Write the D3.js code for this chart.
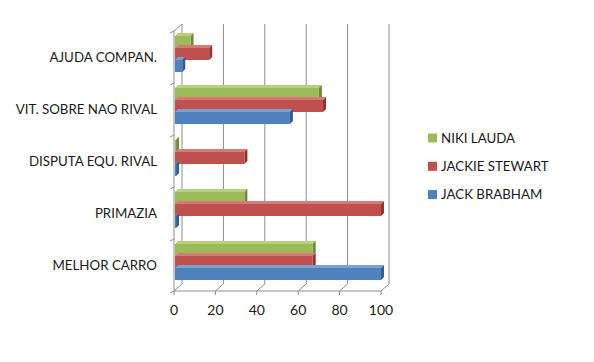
<!DOCTYPE html>
<html>
<head>
<meta charset="utf-8">
<script src="https://cdn.jsdelivr.net/npm/d3@7"></script>
<style>
  body { margin: 0; background: #fff; }
  svg { display: block; font-family: Lato, "Open Sans", sans-serif; }
</style>
</head>
<body>
<div id="chart"></div>
<script>
// categories top to bottom, as in the picture
var categories = ["AJUDA COMPAN.", "VIT. SOBRE NAO RIVAL", "DISPUTA EQU. RIVAL", "PRIMAZIA", "MELHOR CARRO"];
var seriesNames = ["NIKI LAUDA", "JACKIE STEWART", "JACK BRABHAM"];
var nikiLauda = [8, 70, 1, 34, 67];
var jackieStewart = [17, 72, 34, 100, 67];
var jackBrabham = [4, 56, 1, 1, 100];
var xTicks = [0, 20, 40, 60, 80, 100];

var seriesColors = ["#9bbb59", "#c0504d", "#4f81bd"];
var sideColors = ["#6f8a3a", "#8e3432", "#345d8e"];
var topColors = ["#b6d07c", "#d47b78", "#7aa1d2"];

var W = 594, H = 362;
var depthX = 8, depthY = -7;   // offset of the back wall
var barDX = 3, barDY = -3;     // depth of the bars

var svg = d3.select("#chart").append("svg")
    .attr("width", W)
    .attr("height", H);

var x = d3.scaleLinear().domain([0, 100]).range([174, 381]);
var y = d3.scaleBand().domain(categories).range([31, 291]).paddingInner(0).paddingOuter(0);
// bars sit a bit above the middle of each band (3D depth)
var yInner = d3.scaleBand().domain(seriesNames).range([5, 41]).padding(0);

var yTop = y.range()[0], yBottom = y.range()[1];
var gridColor = "#8c8c8c";

// back wall gridlines
svg.append("g").selectAll("line")
    .data(xTicks)
    .join("line")
    .attr("x1", function (d) { return x(d) + depthX; })
    .attr("x2", function (d) { return x(d) + depthX; })
    .attr("y1", yBottom + depthY)
    .attr("y2", yTop + depthY)
    .attr("stroke", gridColor)
    .attr("stroke-width", 1);

// floor: diagonal lines from front ticks to back
svg.append("g").selectAll("line")
    .data(xTicks)
    .join("line")
    .attr("x1", function (d) { return x(d); })
    .attr("x2", function (d) { return x(d) + depthX; })
    .attr("y1", yBottom)
    .attr("y2", yBottom + depthY)
    .attr("stroke", gridColor);
svg.append("line")
    .attr("x1", x(0)).attr("x2", x(100))
    .attr("y1", yBottom).attr("y2", yBottom)
    .attr("stroke", gridColor);

// left wall
svg.append("line")
    .attr("x1", x(0)).attr("x2", x(0))
    .attr("y1", yBottom).attr("y2", yTop)
    .attr("stroke", gridColor);
svg.append("line")
    .attr("x1", x(0)).attr("x2", x(0) + depthX)
    .attr("y1", yTop).attr("y2", yTop + depthY)
    .attr("stroke", gridColor);
svg.append("g").selectAll("line")
    .data(d3.range(categories.length + 1))
    .join("line")
    .attr("x1", x(0) - 4).attr("x2", x(0))
    .attr("y1", function (i) { return yTop + i * y.step() + 2; })
    .attr("y2", function (i) { return yTop + i * y.step(); })
    .attr("stroke", gridColor);

// x tick marks below floor
svg.append("g").selectAll("line")
    .data(xTicks)
    .join("line")
    .attr("x1", function (d) { return x(d); })
    .attr("x2", function (d) { return x(d); })
    .attr("y1", yBottom).attr("y2", yBottom + 4)
    .attr("stroke", gridColor);

// bars
var rows = [];
categories.forEach(function (c, i) {
    [nikiLauda, jackieStewart, jackBrabham].forEach(function (arr, s) {
        rows.push({ cat: c, s: s, name: seriesNames[s], v: arr[i] });
    });
});

var bars = svg.append("g").selectAll("g")
    .data(rows)
    .join("g");

bars.each(function (d) {
    var g = d3.select(this);
    var x0 = x(0) + 1, x1 = x(d.v);
    var y0 = y(d.cat) + yInner(d.name);
    var h = yInner.bandwidth();
    var w = Math.max(x1 - x0, 1);
    // top face
    g.append("path")
        .attr("d", "M" + x0 + "," + y0 + "L" + (x0 + barDX) + "," + (y0 + barDY) +
            "L" + (x0 + w + barDX) + "," + (y0 + barDY) + "L" + (x0 + w) + "," + y0 + "Z")
        .attr("fill", topColors[d.s]);
    // end face
    g.append("path")
        .attr("d", "M" + (x0 + w) + "," + y0 + "L" + (x0 + w + barDX) + "," + (y0 + barDY) +
            "L" + (x0 + w + barDX) + "," + (y0 + h + barDY) + "L" + (x0 + w) + "," + (y0 + h) + "Z")
        .attr("fill", sideColors[d.s]);
    // front face
    g.append("rect")
        .attr("x", x0).attr("y", y0)
        .attr("width", w).attr("height", h)
        .attr("fill", seriesColors[d.s]);
});

// category labels
svg.append("g").selectAll("text")
    .data(categories)
    .join("text")
    .attr("x", 157)
    .attr("y", function (c) { return y(c) + y.bandwidth() / 2; })
    .attr("dy", "0.35em")
    .attr("text-anchor", "end")
    .attr("font-size", 13.3)
    .attr("fill", "#1a1a1a")
    .text(function (c) { return c; });

// x tick labels
svg.append("g").selectAll("text")
    .data(xTicks)
    .join("text")
    .attr("x", function (d) { return x(d); })
    .attr("y", 310)
    .attr("dy", "0.35em")
    .attr("text-anchor", "middle")
    .attr("font-size", 14)
    .attr("fill", "#1a1a1a")
    .text(function (d) { return d; });

// legend
var legend = svg.append("g").selectAll("g")
    .data(seriesNames)
    .join("g")
    .attr("transform", function (d, i) { return "translate(428," + (138 + i * 28.3) + ")"; });
legend.append("rect")
    .attr("x", 0).attr("y", -4.5)
    .attr("width", 9).attr("height", 9)
    .attr("fill", function (d, i) { return seriesColors[i]; });
legend.append("text")
    .attr("x", 13)
    .attr("dy", "0.35em")
    .attr("font-size", 13.3)
    .attr("fill", "#1a1a1a")
    .text(function (d) { return d; });
</script>
</body>
</html>
